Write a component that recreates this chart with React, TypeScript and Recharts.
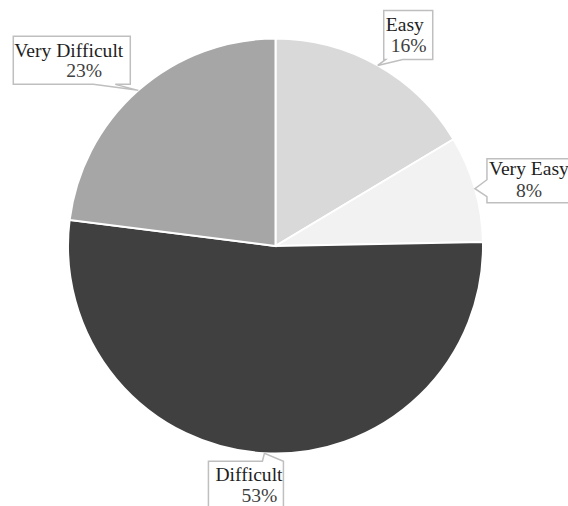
import React from "react";
import { PieChart, Pie, Cell } from "recharts";

const categories = ["Easy", "Very Easy", "Difficult", "Very Difficult"];
const shares = [16.4, 8.3, 52.3, 23.0];
const percentLabels = ["16%", "8%", "53%", "23%"];
const colors = ["#d9d9d9", "#f2f2f2", "#404040", "#a6a6a6"];

const data = categories.map((name, i) => ({ name, value: shares[i], pct: percentLabels[i] }));

type Layout = {
  dx: number; dy: number; w: number; h: number;
  side: "top" | "bottom" | "left";
  from: number; to: number;
  name: [number, number]; pct: [number, number];
};

const labelLayout: Record<string, Layout> = {
  "Easy": { dx: 6, dy: -55, w: 49, h: 49, side: "bottom", from: 2, to: 19, name: [2, 21], pct: [7, 42] },
  "Very Easy": { dx: 12, dy: -30, w: 100, h: 44, side: "left", from: 21, to: 38, name: [2, 16], pct: [29, 38] },
  "Difficult": { dx: -56, dy: 8, w: 75, h: 50, side: "top", from: 54, to: 75, name: [7, 20], pct: [33, 41] },
  "Very Difficult": { dx: -125, dy: -54, w: 117, h: 48, side: "bottom", from: 80, to: 102, name: [1, 21], pct: [53, 41] },
};

const RADIAN = Math.PI / 180;

function calloutPath(x: number, y: number, w: number, h: number, side: string, from: number, to: number, tx: number, ty: number) {
  if (side === "top") {
    return `M${x},${y} L${x + from},${y} L${tx},${ty} L${x + to},${y} L${x + w},${y} L${x + w},${y + h} L${x},${y + h} Z`;
  }
  if (side === "bottom") {
    return `M${x},${y} L${x + w},${y} L${x + w},${y + h} L${x + to},${y + h} L${tx},${ty} L${x + from},${y + h} L${x},${y + h} Z`;
  }
  return `M${x},${y} L${x + w},${y} L${x + w},${y + h} L${x},${y + h} L${x},${y + to} L${tx},${ty} L${x},${y + from} Z`;
}

const FONT = "'Liberation Serif', serif";

const renderLabel = (props: any) => {
  const { cx, cy, midAngle, outerRadius, index } = props;
  const entry = data[index];
  const L = labelLayout[entry.name];
  const tx = cx + outerRadius * Math.cos(-midAngle * RADIAN);
  const ty = cy + outerRadius * Math.sin(-midAngle * RADIAN);
  const bx = tx + L.dx;
  const by = ty + L.dy;
  return (
    <g key={`lbl-${index}`}>
      <path d={calloutPath(bx, by, L.w, L.h, L.side, L.from, L.to, tx, ty)} fill="#ffffff" stroke="#bfbfbf" strokeWidth={1.5} />
      <text x={bx + L.name[0]} y={by + L.name[1]} fill="#1f1f1f" fontFamily={FONT} fontSize={19.6}>
        {entry.name}
      </text>
      <text x={bx + L.pct[0]} y={by + L.pct[1]} fill="#404040" fontFamily={FONT} fontSize={19.6}>
        {entry.pct}
      </text>
    </g>
  );
};

export default function App() {
  return (
    <div style={{ position: "absolute", left: 0, top: 0, width: 568, height: 506, background: "#fff", overflow: "hidden" }}>
      <PieChart width={568} height={506} margin={{ top: 0, right: 0, bottom: 0, left: 0 }}>
        <Pie
          data={data}
          dataKey="value"
          nameKey="name"
          cx={275.5}
          cy={246}
          outerRadius={207.5}
          startAngle={90}
          endAngle={-270}
          stroke="#ffffff"
          strokeWidth={2}
          label={renderLabel}
          labelLine={false}
          isAnimationActive={false}
        >
          {data.map((d, i) => (
            <Cell key={d.name} fill={colors[i]} />
          ))}
        </Pie>
      </PieChart>
    </div>
  );
}
